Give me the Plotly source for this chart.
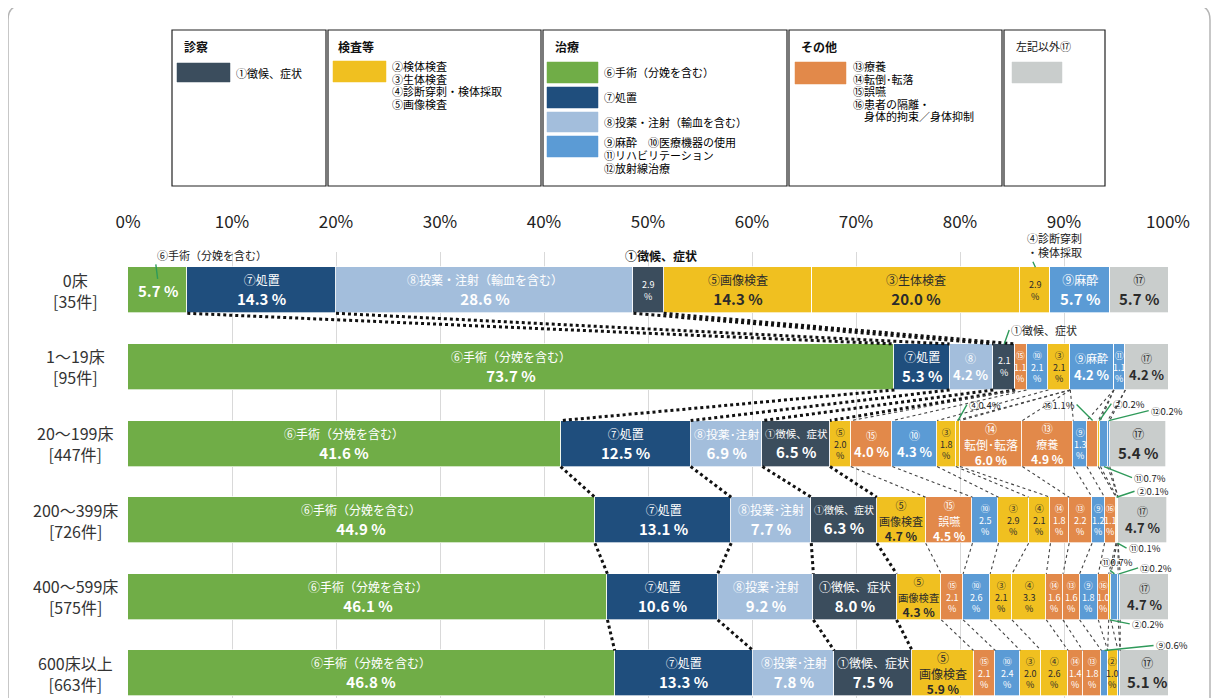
import plotly.graph_objects as go

# the page body has an 8px margin, so the figure is drawn 8px in from the corner
OFF = 8
W, H = 1219 - OFF, 698 - OFF
ML, MR, MT, MB = 128 - OFF, 51, 252 - OFF, 0
FONT = "Noto Sans CJK JP"

# ---------------- data ----------------
categories = ["⑥", "⑦", "⑧", "①", "⑤", "⑮", "⑩", "③", "④", "⑭", "⑬", "⑨", "⑯", "②", "⑪", "⑫", "⑰"]
row_labels = ["0床<br>[35件]", "1～19床<br>[95件]", "20～199床<br>[447件]",
              "200～399床<br>[726件]", "400～599床<br>[575件]", "600床以上<br>[663件]"]
x_ticks = [0, 10, 20, 30, 40, 50, 60, 70, 80, 90, 100]

#          ⑥     ⑦     ⑧    ①    ⑤     ⑮   ⑩   ③     ④    ⑭   ⑬   ⑨    ⑯   ②    ⑪   ⑫   ⑰
vals_0 = [5.7, 14.3, 28.6, 2.9, 14.3, 0.0, 0.0, 20.0, 2.9, 0.0, 0.0, 5.7, 0.0, 0.0, 0.0, 0.0, 5.7]
vals_1 = [73.7, 5.3, 4.2, 2.1, 0.0, 1.1, 2.1, 2.1, 0.0, 0.0, 0.0, 4.2, 0.0, 0.0, 1.1, 0.0, 4.2]
vals_2 = [41.6, 12.5, 6.9, 6.5, 2.0, 4.0, 4.3, 1.8, 0.4, 6.0, 4.9, 1.3, 1.1, 0.2, 0.7, 0.2, 5.4]
vals_3 = [44.9, 13.1, 7.7, 6.3, 4.7, 4.5, 2.5, 2.9, 2.1, 1.8, 2.2, 1.2, 1.1, 0.1, 0.1, 0.0, 4.7]
vals_4 = [46.1, 10.6, 9.2, 8.0, 4.3, 2.1, 2.6, 2.1, 3.3, 1.6, 1.6, 1.8, 1.0, 0.2, 0.7, 0.2, 4.7]
vals_5 = [46.8, 13.3, 7.8, 7.5, 5.9, 2.1, 2.4, 2.0, 2.6, 1.4, 1.8, 0.6, 0.0, 1.0, 0.2, 0.0, 5.1]
rows = [vals_0, vals_1, vals_2, vals_3, vals_4, vals_5]

# inner segment names per row (value is appended from the data)
names_0 = {"⑥": "", "⑦": "⑦処置", "⑧": "⑧投薬・注射（輸血を含む）", "①": "", "⑤": "⑤画像検査",
           "③": "③生体検査", "④": "", "⑨": "⑨麻酔", "⑰": "⑰"}
names_1 = {"⑥": "⑥手術（分娩を含む）", "⑦": "⑦処置", "⑧": "⑧", "①": "", "⑮": "⑮", "⑩": "⑩",
           "③": "③", "⑨": "⑨麻酔", "⑪": "⑪", "⑰": "⑰"}
names_2 = {"⑥": "⑥手術（分娩を含む）", "⑦": "⑦処置", "⑧": "⑧投薬･注射", "①": "①徴候、症状",
           "⑤": "⑤", "⑮": "⑮", "⑩": "⑩", "③": "③", "⑭": "⑭<br>転倒･転落", "⑬": "⑬<br>療養",
           "⑨": "⑨", "⑰": "⑰"}
names_3 = {"⑥": "⑥手術（分娩を含む）", "⑦": "⑦処置", "⑧": "⑧投薬･注射", "①": "①徴候、症状",
           "⑤": "⑤<br>画像検査", "⑮": "⑮<br>誤嚥", "⑩": "⑩", "③": "③", "④": "④", "⑭": "⑭",
           "⑬": "⑬", "⑨": "⑨", "⑯": "⑯", "⑰": "⑰"}
names_4 = {"⑥": "⑥手術（分娩を含む）", "⑦": "⑦処置", "⑧": "⑧投薬･注射", "①": "①徴候、症状",
           "⑤": "⑤<br>画像検査", "⑮": "⑮", "⑩": "⑩", "③": "③", "④": "④", "⑭": "⑭",
           "⑬": "⑬", "⑨": "⑨", "⑯": "⑯", "⑰": "⑰"}
names_5 = {"⑥": "⑥手術（分娩を含む）", "⑦": "⑦処置", "⑧": "⑧投薬･注射", "①": "①徴候、症状",
           "⑤": "⑤<br>画像検査", "⑮": "⑮", "⑩": "⑩", "③": "③", "④": "④", "⑭": "⑭",
           "⑬": "⑬", "②": "②", "⑰": "⑰"}
row_names = [names_0, names_1, names_2, names_3, names_4, names_5]

# outside callouts: (row, category, text, ax, ay, edge, anchor)
callouts = [
    (0, "⑥", "⑥手術（分娩を含む）", -3, -24, "in", "left"),
    (0, "④", "④診断穿刺<br>・検体採取", -10, -22, "top", "left"),
    (1, "①", "①徴候、症状", 5, -14, "top", "left"),
    (2, "④", "④{v}%", 9, -16, "top", "left"),
    (2, "⑯", "⑯{v}%", -16, -16, "top", "right"),
    (2, "②", "②{v}%", 12, -17, "top", "left"),
    (2, "⑫", "⑫{v}%", 40, -10, "top", "left"),
    (2, "⑪", "⑪{v}%", 28, 11, "bottom", "left"),
    (3, "②", "②{v}%", 18, -6, "top", "left"),
    (3, "⑪", "⑪{v}%", 9, 5, "bottom", "left"),
    (4, "⑪", "⑪{v}%", -15, -12, "top", "left"),
    (4, "⑫", "⑫{v}%", 19, -6, "top", "left"),
    (4, "②", "②{v}%", 20, 4, "bottom", "left"),
    (5, "⑨", "⑨{v}%", 49, -5, "top", "left"),
]

# ---------------- styles ----------------
C_SLATE = "#3b4d5d"
C_YEL = "#f0c020"
C_GRN = "#70ad47"
C_NAVY = "#1f4e7d"
C_LBLUE = "#a3bedc"
C_BLUE = "#5b9bd5"
C_ORG = "#e2894a"
C_GRAY = "#c9cdcc"
colors = {"①": C_SLATE, "②": C_YEL, "③": C_YEL, "④": C_YEL, "⑤": C_YEL, "⑥": C_GRN, "⑦": C_NAVY,
          "⑧": C_LBLUE, "⑨": C_BLUE, "⑩": C_BLUE, "⑪": C_BLUE, "⑫": C_BLUE, "⑬": C_ORG,
          "⑭": C_ORG, "⑮": C_ORG, "⑯": C_ORG, "⑰": C_GRAY}
dark_text = {"②", "③", "④", "⑤", "⑰"}

BAR_W = 0.6
HALF = BAR_W / 2
PX_PER_PCT = (W - ML - MR) / 100.0


def px(x):
    return (x - OFF - ML) / (W - ML - MR)


def py(y):
    return (H - MB - (y - OFF)) / (H - MT - MB)


def em_len(s):
    n = 0.0
    for ch in s:
        n += 0.55 if ord(ch) < 0x2000 or ch == "･" else 1.0
    return n


fig = go.Figure()
ys = list(range(len(rows)))
for ci, cat in enumerate(categories):
    fig.add_trace(go.Bar(
        x=[r[ci] for r in rows], y=ys, orientation="h", name=cat,
        width=BAR_W, marker=dict(color=colors[cat], line=dict(color="rgba(255,255,255,0.85)", width=0.8)),
        hoverinfo="skip", showlegend=False))

cum = []
for r in rows:
    c, acc = [], 0.0
    for v in r:
        acc += v
        c.append(acc)
    cum.append(c)

annotations = []
shapes = []

# inner labels
for ri, names in enumerate(row_names):
    for cat, name in names.items():
        i = categories.index(cat)
        v = rows[ri][i]
        if v <= 0:
            continue
        xm = cum[ri][i] - v / 2
        col = "#2b2b2b" if cat in dark_text else "white"
        wpx = v * PX_PER_PCT
        lines = name.split("<br>") if name else []
        if v >= 3.5:
            if len(lines) > 1:
                vs = 12
            else:
                vs = 15 if v >= 5 else 13
            longest = max([em_len(s) for s in lines] + [0.1])
            ns = min(12 if v >= 5 else 11, 0.92 * wpx / longest)
            parts = [f"<span style='font-size:{ns:.1f}px'>{s}</span>" for s in lines]
            parts.append(f"<b>{v:.1f} %</b>")
            txt = "<br>".join(parts)
            fs = vs
        else:
            txt = "<br>".join(lines + [f"{v:.1f}", "%"])
            fs = 9
        annotations.append(dict(x=xm, y=ri, xref="x", yref="y", text=txt, showarrow=False,
                                font=dict(size=fs, color=col, family=FONT), align="center"))

# row 0 ① heading
i1 = categories.index("①")
annotations.append(dict(x=cum[0][i1] - rows[0][i1] - 1.0, y=-HALF, xref="x", yref="y",
                        text="<b>①徴候、症状</b>", showarrow=False, xanchor="left", yanchor="bottom",
                        yshift=1, font=dict(size=12, color="#111", family=FONT)))

# callouts with green leader lines
for (ri, cat, tmpl, ax, ay, edge, anchor) in callouts:
    i = categories.index(cat)
    v = rows[ri][i]
    xm = cum[ri][i] - v / 2
    yy = ri - HALF if edge == "top" else (ri + HALF if edge == "bottom" else ri - HALF / 2)
    annotations.append(dict(x=xm, y=yy, xref="x", yref="y", text=tmpl.format(v=v),
                            showarrow=True, arrowhead=0, arrowwidth=1.4, arrowcolor="#2f9a5a",
                            ax=ax, ay=ay, xanchor=anchor, align="left",
                            standoff=0, startstandoff=0,
                            font=dict(size=9.5 if "{v}" in tmpl else 11, color="#222", family=FONT)))

# dotted connector lines between rows
for ri in range(len(rows) - 1):
    seen = set()
    for i in range(len(categories) - 1):
        a, b = rows[ri][i], rows[ri + 1][i]
        thick = i < 4
        if ri == 0 and not thick:
            continue
        if not thick and a == 0 and b == 0:
            continue
        key = (round(cum[ri][i], 2), round(cum[ri + 1][i], 2))
        if key in seen:
            continue
        seen.add(key)
        shapes.append(dict(type="line", xref="x", yref="y",
                           x0=cum[ri][i], y0=ri + HALF, x1=cum[ri + 1][i], y1=ri + 1 - HALF,
                           line=dict(color="#111" if thick else "#444", width=3 if thick else 1.1,
                                     dash="dot")))

# row labels
for ri, lab in enumerate(row_labels):
    annotations.append(dict(x=px(75), y=ri, xref="paper", yref="y", text=lab, showarrow=False,
                            xanchor="center", yanchor="middle", align="center",
                            font=dict(size=16, color="#333", family=FONT)))


# ---------------- legend panel ----------------
def add_text(x, y, text, size=11, color="#111", bold=False):
    annotations.append(dict(x=px(x), y=py(y), xref="paper", yref="paper",
                            text=f"<b>{text}</b>" if bold else text, showarrow=False,
                            xanchor="left", yanchor="middle", font=dict(size=size, color=color, family=FONT)))


def add_rect(x0, y0, x1, y1, fill=None, line="#222", lw=1.2):
    shapes.append(dict(type="rect", xref="paper", yref="paper", x0=px(x0), x1=px(x1), y0=py(y1), y1=py(y0),
                       fillcolor=fill if fill else "rgba(0,0,0,0)", line=dict(color=line, width=lw)))


for (x0, x1) in [(172, 326), (328, 541), (543, 787), (789, 1002), (1004, 1105)]:
    add_rect(x0, 30, x1, 186)

for (t, x) in [("診察", 182), ("検査等", 336), ("治療", 553), ("その他", 799)]:
    add_text(x, 46, t, size=12, bold=True)
add_text(1014, 46, "左記以外⑰", size=11)

for (x0, y0, x1, y1, c) in [(177, 63, 230, 82, C_SLATE), (333, 61, 386, 82, C_YEL),
                            (547, 62, 598, 83, C_GRN), (547, 87, 598, 108, C_NAVY),
                            (547, 112, 598, 132, C_LBLUE), (547, 136, 598, 157, C_BLUE),
                            (795, 62, 846, 84, C_ORG), (1012, 62, 1062, 83, C_GRAY)]:
    add_rect(x0, y0, x1, y1, fill=c, line=c, lw=0.5)

for (x, y, t) in [(234, 73, "①徴候、症状"),
                  (390, 66, "②検体検査"), (390, 79, "③生体検査"), (390, 91, "④診断穿刺・検体採取"),
                  (390, 104, "⑤画像検査"),
                  (602, 72, "⑥手術（分娩を含む）"), (602, 97, "⑦処置"), (602, 122, "⑧投薬・注射（輸血を含む）"),
                  (602, 142, "⑨麻酔　⑩医療機器の使用"), (602, 155, "⑪リハビリテーション"),
                  (602, 168, "⑫放射線治療"),
                  (851, 66, "⑬療養"), (851, 79, "⑭転倒･転落"), (851, 91, "⑮誤嚥"),
                  (851, 104, "⑯患者の隔離・"), (862, 116, "身体的拘束／身体抑制")]:
    add_text(x, y, t, size=11, color="#000")

# outer rounded frame
path = (f"M {px(8)},{py(705)} L {px(8)},{py(20)} Q {px(8)},{py(5)} {px(23)},{py(5)} "
        f"L {px(1195)},{py(5)} Q {px(1210)},{py(5)} {px(1210)},{py(20)} L {px(1210)},{py(705)}")
shapes.append(dict(type="path", xref="paper", yref="paper", path=path, line=dict(color="#b5b5b5", width=1.5)))

fig.update_layout(
    width=W, height=H, barmode="stack", bargap=0,
    margin=dict(l=ML, r=MR, t=MT, b=MB, pad=0),
    paper_bgcolor="white", plot_bgcolor="white",
    font=dict(family=FONT, color="#222"),
    xaxis=dict(side="top", range=[0, 100], tickvals=x_ticks, ticktext=[f"{t}%" for t in x_ticks],
               showgrid=True, gridcolor="#d9d9d9", gridwidth=1, zeroline=False, showline=False,
               ticks="", tickfont=dict(size=17, color="#222", family=FONT), ticklabelstandoff=20,
               fixedrange=True),
    yaxis=dict(range=[5.32, -0.5], showticklabels=False, showgrid=False, zeroline=False,
               showline=False, fixedrange=True),
    annotations=annotations, shapes=shapes, showlegend=False,
)

fig.write_html("out.html")
